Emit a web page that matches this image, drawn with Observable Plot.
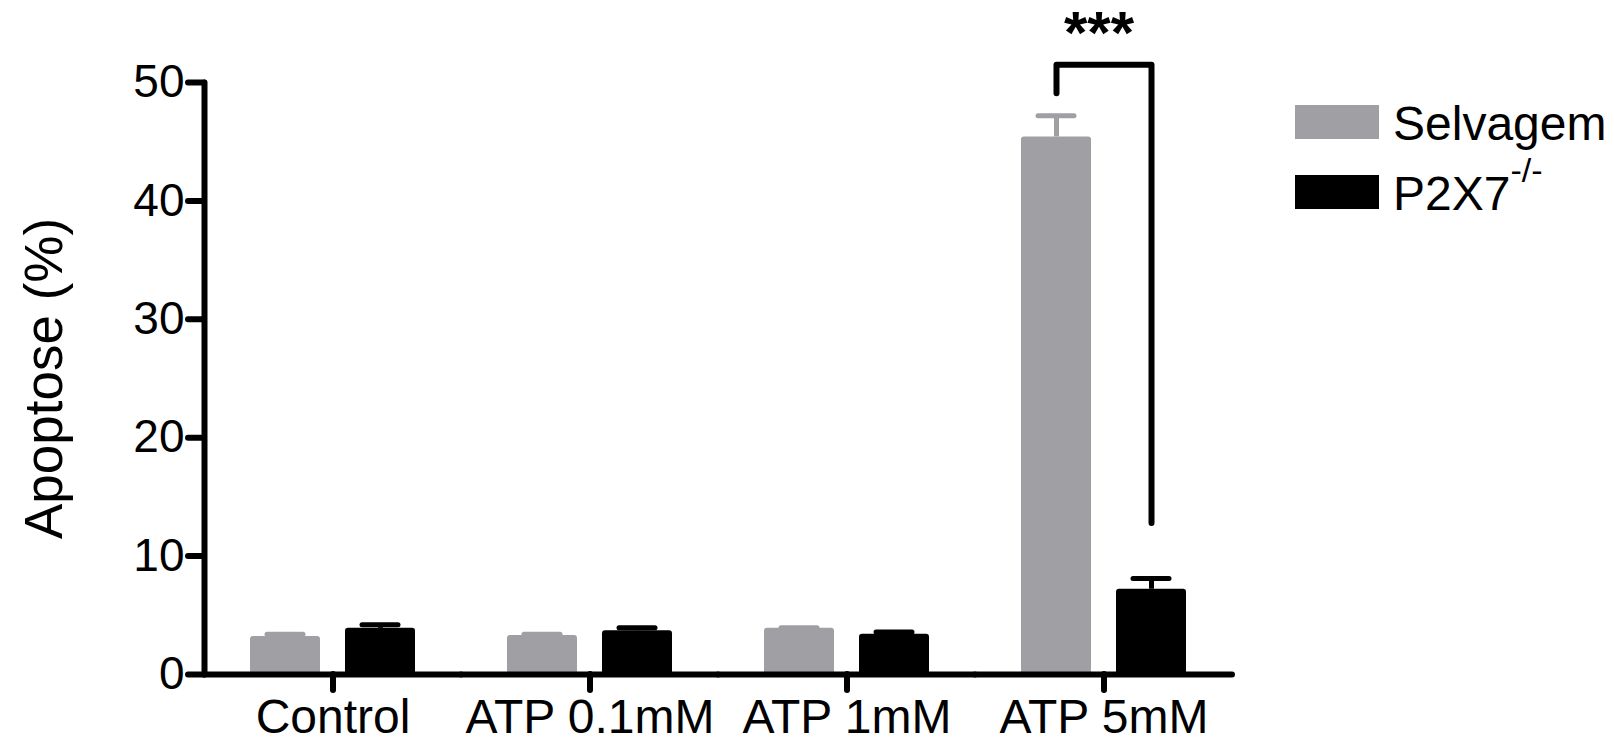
<!DOCTYPE html>
<html><head><meta charset="utf-8">
<script src="https://cdn.jsdelivr.net/npm/d3@7"></script>
<script src="https://cdn.jsdelivr.net/npm/@observablehq/plot@0.6"></script>
<style>
body{margin:0;background:#fff;}
#wrap{position:relative;width:1614px;height:741px;font-family:"Liberation Sans",Arial,Helvetica,sans-serif;}
.sw{position:absolute;width:84px;height:34px;}
.lt{position:absolute;font-size:48px;line-height:48px;white-space:nowrap;color:#000;}
.lt span{font-size:34px;position:relative;top:-28px;}
g[aria-label="y-axis label"], g[aria-label="y-axis label"] text{font-size:53px;}
g[aria-label="fx-axis tick label"], g[aria-label="fx-axis tick label"] text{font-size:48px;}
</style></head><body><div id="wrap"></div>
<script>
const categories = ["Control", "ATP 0.1mM", "ATP 1mM", "ATP 5mM"];
const groups = ["Selvagem", "P2X7-/-"];
const selvagemMean = [3.2, 3.3, 3.9, 45.4];
const selvagemSem = [0.2, 0.1, 0.05, 1.8];
const p2x7Mean = [3.9, 3.7, 3.4, 7.2];
const p2x7Sem = [0.3, 0.25, 0.2, 0.9];
const yTicks = [0, 10, 20, 30, 40, 50];
const colors = ["#a09fa4", "#000000"];
const sigCategory = "ATP 5mM";
const sigLabel = "***";
const sigTop = 51.5, sigLeftEnd = 49.1, sigRightEnd = 12.8, sigLabelY = 54.1;

const rows = [];
categories.forEach((c, i) => {
  rows.push({category: c, group: groups[0], mean: selvagemMean[i], sem: selvagemSem[i]});
  rows.push({category: c, group: groups[1], mean: p2x7Mean[i], sem: p2x7Sem[i]});
});
const bracket = [
  {category: sigCategory, group: groups[0], y: sigLeftEnd},
  {category: sigCategory, group: groups[0], y: sigTop},
  {category: sigCategory, group: groups[1], y: sigTop},
  {category: sigCategory, group: groups[1], y: sigRightEnd}
];
const stars = [{category: sigCategory, y: sigLabelY, label: sigLabel}];

const font = "'Liberation Sans', Arial, Helvetica, sans-serif";
const plot = Plot.plot({
  width: 1614, height: 741,
  marginLeft: 203, marginRight: 382, marginTop: 82, marginBottom: 67,
  style: {fontFamily: font, fontSize: "46px", color: "#000", background: "#fff", overflow: "visible"},
  fx: {domain: categories, padding: 0, label: null},
  x: {domain: groups, paddingInner: 0.26, paddingOuter: 0.469, axis: null},
  y: {domain: [0, 50]},
  color: {domain: groups, range: colors},
  marks: [
    Plot.ruleX(rows, {fx: "category", x: "group", y1: "mean", y2: d => d.mean + d.sem, stroke: "group", strokeWidth: 5}),
    Plot.tickY(rows, {fx: "category", x: "group", y: d => d.mean + d.sem, stroke: "group", strokeWidth: 5, insetLeft: 17, insetRight: 17, strokeLinecap: "round"}),
    Plot.barY(rows, {fx: "category", x: "group", y: "mean", fill: "group", rx: 3}),
    Plot.ruleY([0], {strokeWidth: 6, strokeLinecap: "round"}),
    Plot.frame({anchor: "left", facetAnchor: "left", strokeWidth: 6, strokeLinecap: "round"}),
    Plot.axisY({ticks: yTicks, tickSize: 16, tickPadding: 4, strokeWidth: 6, strokeLinecap: "round", label: "Apoptose (%)", labelAnchor: "center", labelOffset: 180, labelArrow: "none"}),
    Plot.axisFx({anchor: "bottom", tickSize: 16, tickPadding: 8, strokeWidth: 6, strokeLinecap: "round", label: null}),
    Plot.line(bracket, {fx: "category", x: "group", y: "y", strokeWidth: 6, strokeLinejoin: "round", strokeLinecap: "round"}),
    Plot.text(stars, {fx: "category", y: "y", text: "label", fontSize: 60, fontWeight: "bold", dx: -5})
  ]
});
const wrap = document.getElementById("wrap");
wrap.appendChild(plot);

// legend
const legendTops = [105, 175];
groups.forEach((g, i) => {
  const sw = document.createElement("div");
  sw.className = "sw";
  sw.style.left = "1295px";
  sw.style.top = legendTops[i] + "px";
  sw.style.background = colors[i];
  wrap.appendChild(sw);
  const t = document.createElement("div");
  t.className = "lt";
  t.style.left = "1393px";
  t.style.top = (legendTops[i] - 5) + "px";
  const m = g.match(/^(.*?)(-\/-)$/);
  if (m) { t.textContent = m[1]; const s = document.createElement("span"); s.textContent = m[2]; t.appendChild(s); }
  else t.textContent = g;
  wrap.appendChild(t);
});
</script></body></html>
